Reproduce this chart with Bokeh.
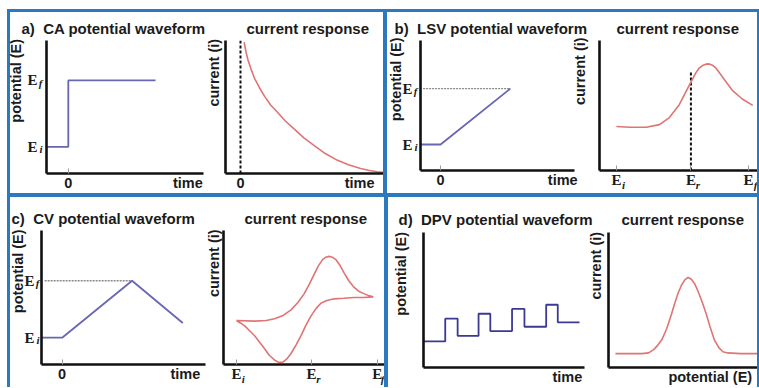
from bokeh.plotting import figure
from bokeh.layouts import row, column
from bokeh.models import FixedTicker, LinearAxis
from bokeh.embed import file_html
from bokeh.resources import INLINE

# ---------------- data ----------------
# a) chronoamperometry (CA)
ca_wave_t = [-0.25, 0.0, 0.0, 1.0]
ca_wave_E = [0.2, 0.2, 0.7, 0.7]
ca_ticks_E = [0.2, 0.7]
ca_resp_t = [0.026, 0.04, 0.054, 0.075, 0.10, 0.135, 0.172, 0.215, 0.267, 0.32,
             0.384, 0.45, 0.526, 0.605, 0.692, 0.77, 0.857, 0.92, 0.976, 1.02]
ca_resp_i = [0.987, 0.91, 0.852, 0.785, 0.716, 0.645, 0.58, 0.515, 0.457, 0.395,
             0.333, 0.27, 0.21, 0.15, 0.099, 0.065, 0.037, 0.022, 0.013, 0.008]
ca_dash_t = [0.0, 0.0]
ca_dash_i = [0.0, 1.0]

# b) linear sweep voltammetry (LSV)
lsv_wave_t = [-0.23, 0.0, 0.8]
lsv_wave_E = [0.2, 0.2, 0.63]
lsv_ticks_E = [0.2, 0.63]
lsv_dot_t = [-0.2, 0.8]
lsv_dot_E = [0.63, 0.63]
lsv_resp_E = [0.0, 0.1, 0.226, 0.326, 0.401, 0.476, 0.551, 0.602, 0.624, 0.652,
              0.677, 0.702, 0.727, 0.752, 0.814, 0.877, 0.953, 1.032]
lsv_resp_i = [0.338, 0.333, 0.333, 0.353, 0.407, 0.506, 0.654, 0.753, 0.785, 0.807,
              0.818, 0.820, 0.81, 0.79, 0.704, 0.617, 0.55, 0.501]
lsv_dash_E = [0.564, 0.564]
lsv_dash_i = [0.0, 0.76]
lsv_ticks_x = [0.0, 0.564, 1.0]

# c) cyclic voltammetry (CV)
cv_wave_t = [-0.236, 0.0, 0.8, 1.38]
cv_wave_E = [0.2, 0.2, 0.625, 0.31]
cv_ticks_E = [0.2, 0.625]
cv_dot_t = [-0.2, 0.8]
cv_dot_E = [0.625, 0.625]
cv_resp_E = [0.0, 0.129, 0.212, 0.27, 0.332, 0.388, 0.438, 0.482, 0.519, 0.553,
             0.582, 0.612, 0.635, 0.658, 0.681, 0.706, 0.734, 0.764, 0.797, 0.835,
             0.868, 0.905, 0.939, 0.972,
             0.903, 0.835, 0.762, 0.694, 0.642, 0.60, 0.565, 0.529, 0.494, 0.459,
             0.423, 0.388, 0.356, 0.33, 0.30, 0.27, 0.233, 0.20, 0.162, 0.129,
             0.092, 0.059, 0.028, 0.0]
cv_resp_i = [0.328, 0.324, 0.328, 0.341, 0.366, 0.408, 0.464, 0.529, 0.601, 0.674,
             0.736, 0.783, 0.801, 0.807, 0.801, 0.783, 0.743, 0.686, 0.627, 0.577,
             0.547, 0.529, 0.514, 0.505,
             0.50, 0.50, 0.494, 0.49, 0.478, 0.457, 0.417, 0.361, 0.294, 0.216,
             0.145, 0.082, 0.04, 0.017, 0.016, 0.034, 0.069, 0.118, 0.17, 0.215,
             0.254, 0.288, 0.31, 0.328]
cv_ticks_x = [0.0, 0.534, 1.0]

# d) differential pulse voltammetry (DPV)
dpv_wave_t = [0.0, 0.135, 0.212, 0.342, 0.415, 0.55, 0.627, 0.762, 0.834, 0.969]
dpv_wave_E = [0.193, 0.362, 0.234, 0.398, 0.27, 0.434, 0.302, 0.465, 0.335, 0.335]
dpv_resp_E = [0.046, 0.222, 0.266, 0.301, 0.327, 0.353, 0.386, 0.418, 0.441, 0.462,
              0.484, 0.507, 0.527, 0.549, 0.572, 0.593, 0.618, 0.647, 0.673, 0.701,
              0.732, 0.758, 0.789, 0.876, 0.987]
dpv_resp_i = [0.103, 0.103, 0.108, 0.134, 0.166, 0.205, 0.289, 0.398, 0.484, 0.554,
              0.611, 0.651, 0.667, 0.654, 0.618, 0.565, 0.492, 0.398, 0.30, 0.205,
              0.145, 0.117, 0.108, 0.103, 0.103]

# ---------------- style ----------------
BORDER = "#2b79bf"
WAVE = "#6767b2"
WAVE_DARK = "#3a3a92"
RED = "#e07474"
INK = "#1b1b1b"
SANS = "Liberation Sans"
SERIF = "Liberation Serif"
NB = "\u00a0"


def make_fig(w, h, xr, yr, title, t_off, t_stand, mbl, mbr, mbt, mbb, ml=0):
    p = figure(width=w, height=h, x_range=xr, y_range=yr, output_backend="svg",
               toolbar_location=None, min_border_left=mbl, min_border_right=mbr,
               min_border_top=mbt, min_border_bottom=mbb, margin=(0, 0, 0, ml))
    p.title.text = title
    p.title.align = "left"
    p.title.offset = t_off
    p.title.standoff = t_stand
    p.title.text_font = SANS
    p.title.text_font_size = "15px"
    p.title.text_font_style = "bold"
    p.title.text_color = INK
    p.grid.visible = False
    p.outline_line_color = None
    p.background_fill_color = None
    p.border_fill_color = None
    for ax in (p.xaxis[0], p.yaxis[0]):
        ax.axis_line_width = 2.6
        ax.axis_line_color = "#111111"
        ax.major_tick_line_color = None
        ax.major_tick_in = 0
        ax.major_tick_out = 0
        ax.minor_tick_line_color = "#9a9a9a"
        ax.minor_tick_line_width = 1
        ax.minor_tick_in = 5
        ax.minor_tick_out = 0
        ax.axis_label_text_font = SANS
        ax.axis_label_text_font_style = "bold"
        ax.axis_label_text_font_size = "14.5px"
        ax.axis_label_text_color = INK
        ax.major_label_text_font = SANS
        ax.major_label_text_font_style = "bold"
        ax.major_label_text_font_size = "14.5px"
        ax.major_label_text_color = INK
        ax.major_label_standoff = 1
    p.xaxis[0].ticker = FixedTicker(ticks=[])
    p.yaxis[0].ticker = FixedTicker(ticks=[])
    return p


def set_ylabel(ax, text, standoff, pad):
    # the label is centred on the axis; leading no-break spaces lift the
    # visible words towards the top of the axis, as in the reference
    ax.axis_label = NB * pad + text
    ax.axis_label_standoff = standoff


def plain_axis(**kw):
    ax = LinearAxis(**kw)
    ax.axis_line_color = None
    ax.major_tick_line_color = None
    ax.minor_tick_line_color = None
    ax.major_tick_in = 0
    ax.major_tick_out = 0
    ax.minor_tick_in = 0
    ax.minor_tick_out = 0
    ax.axis_label_text_font = SANS
    ax.axis_label_text_font_style = "bold"
    ax.axis_label_text_font_size = "14.5px"
    ax.axis_label_text_color = INK
    ax.major_label_text_color = INK
    return ax


def x_ticks(p, ticks, labels, minor=None):
    ax = p.xaxis[0]
    ax.ticker = FixedTicker(ticks=ticks, minor_ticks=minor or [])
    ax.major_label_overrides = dict(zip(ticks, labels))


def y_E_axes(p, ticks, subs, sub_standoff, label, label_standoff, pad):
    # inner axis (the drawn axis line) carries the italic subscripts,
    # the outer axis carries the bold "E" and the axis title
    delta = 0.018
    inner = p.yaxis[0]
    sub_ticks = [t - delta for t in ticks]
    inner.ticker = FixedTicker(ticks=sub_ticks)
    inner.major_label_overrides = dict(zip(sub_ticks, subs))
    inner.major_label_text_font = SERIF
    inner.major_label_text_font_style = "bold italic"
    inner.major_label_text_font_size = "11px"
    inner.major_label_standoff = sub_standoff
    outer = plain_axis(ticker=FixedTicker(ticks=ticks),
                       major_label_overrides={t: "E" for t in ticks})
    outer.major_label_text_font = SERIF
    outer.major_label_text_font_style = "bold"
    outer.major_label_text_font_size = "15px"
    outer.major_label_standoff = -2
    set_ylabel(outer, label, label_standoff, pad)
    p.add_layout(outer, "left")


def x_E_axes(p, ticks, subs, dx):
    inner = p.xaxis[0]
    inner.ticker = FixedTicker(ticks=ticks, minor_ticks=ticks)
    inner.major_label_overrides = {t: "E" for t in ticks}
    inner.major_label_text_font = SERIF
    inner.major_label_text_font_size = "15px"
    inner.major_label_standoff = 1
    sub_ticks = [t + dx for t in ticks]
    outer = plain_axis(ticker=FixedTicker(ticks=sub_ticks),
                       major_label_overrides=dict(zip(sub_ticks, subs)))
    outer.major_label_text_font = SERIF
    outer.major_label_text_font_style = "bold italic"
    outer.major_label_text_font_size = "11px"
    outer.major_label_standoff = -12
    p.add_layout(outer, "below")


# ---------------- a) CA ----------------
a1 = make_fig(205, 181, (-0.25, 1.55), (0, 1), "a)" + NB + " CA potential waveform",
              -25, 8, 40, 7, 28, 18, ml=-5)
x_ticks(a1, [0.0, 1.37], ["0", "time"], [0.0])
y_E_axes(a1, ca_ticks_E, ["i", "f"], 4, "potential (E)", 0, 13)
a1.line(ca_wave_t, ca_wave_E, line_color=WAVE, line_width=1.8)

a2 = make_fig(181, 181, (-0.107, 1.02), (0, 1), "current response", 21, 8, 22, 0, 28, 18, ml=-8)
set_ylabel(a2.yaxis[0], "current (i)", 4, 17)
x_ticks(a2, [0.0, 0.85], ["0", "time"])
a2.line(ca_dash_t, ca_dash_i, line_color="#111111", line_width=2, line_dash="3 2")
a2.line(ca_resp_t, ca_resp_i, line_color=RED, line_width=1.6)

# ---------------- b) LSV ----------------
b1 = make_fig(205, 181, (-0.23, 1.535), (0, 1), "b)" + NB + " LSV potential waveform",
              -26, 8, 34, 16, 28, 18, ml=-2)
x_ticks(b1, [0.0, 1.40], ["0", "time"], [0.0])
y_E_axes(b1, lsv_ticks_E, ["i", "f"], 3, "potential (E)", -5, 13)
b1.line(lsv_dot_t, lsv_dot_E, line_color="#8a8a8a", line_width=1.3, line_dash="2 1")
b1.line(lsv_wave_t, lsv_wave_E, line_color=WAVE, line_width=1.8)

b2 = make_fig(189, 181, (-0.128, 1.068), (0, 1), "current response", 17, 8, 30, 0, 28, 18, ml=-22)
set_ylabel(b2.yaxis[0], "current (i)", 12, 17)
x_E_axes(b2, lsv_ticks_x, ["i", "r", "f"], 0.053)
b2.line(lsv_dash_E, lsv_dash_i, line_color="#111111", line_width=2, line_dash="3 2")
b2.line(lsv_resp_E, lsv_resp_i, line_color=RED, line_width=1.6)

# ---------------- c) CV ----------------
c1 = make_fig(199, 190, (-0.236, 1.64), (0, 1), "c)" + NB + " CV potential waveform",
              -30, 8, 33, 1, 33, 19, ml=-3)
x_ticks(c1, [0.0, 1.41], ["0", "time"], [0.0])
y_E_axes(c1, cv_ticks_E, ["i", "f"], 2, "potential (E)", -5, 13)
c1.line(cv_dot_t, cv_dot_E, line_color="#8a8a8a", line_width=1.3, line_dash="2 1")
c1.line(cv_wave_t, cv_wave_E, line_color=WAVE, line_width=1.8)

c2 = make_fig(182, 190, (-0.092, 1.052), (0, 1), "current response", 21, 8, 20, 0, 33, 19, ml=-4)
set_ylabel(c2.yaxis[0], "current (i)", 2, 17)
x_E_axes(c2, cv_ticks_x, ["i", "r", "f"], 0.049)
c2.line(cv_resp_E, cv_resp_i, line_color=RED, line_width=1.6)

# ---------------- d) DPV ----------------
d1 = make_fig(212, 190, (0, 1), (0, 1), "d)" + NB + " DPV potential waveform",
              -25, 10, 35, 16, 35, 18)
set_ylabel(d1.yaxis[0], "potential (E)", 15, 13)
x_ticks(d1, [0.894], ["time"])
d1.step(dpv_wave_t, dpv_wave_E, mode="after", line_color=WAVE_DARK, line_width=1.8)

d2 = make_fig(173, 190, (0, 0.987), (0, 1), "current response", 13, 10, 22, 0, 35, 18, ml=-16)
set_ylabel(d2.yaxis[0], "current (i)", 5, 17)
x_ticks(d2, [0.745], ["potential (E)"])
d2.line(dpv_resp_E, dpv_resp_i, line_color=RED, line_width=1.6)

# ---------------- layout ----------------
def bstyle(left, top, right, bottom):
    return {
        "border-left": f"{left}px solid {BORDER}",
        "border-top": f"{top}px solid {BORDER}",
        "border-right": f"{right}px solid {BORDER}",
        "border-bottom": f"{bottom}px solid {BORDER}",
    }

pa = row(a1, a2, styles=bstyle(3, 3, 2, 2))
pb = row(b1, b2, styles=bstyle(2, 3, 2, 2))
pc = row(c1, c2, styles=bstyle(3, 2, 2, 0))
pd = row(d1, d2, styles=bstyle(2, 2, 2, 0))
layout = column(row(pa, pb), row(pc, pd), margin=(9, 0, 0, 7))

open("out.html", "w").write(file_html(layout, INLINE))
